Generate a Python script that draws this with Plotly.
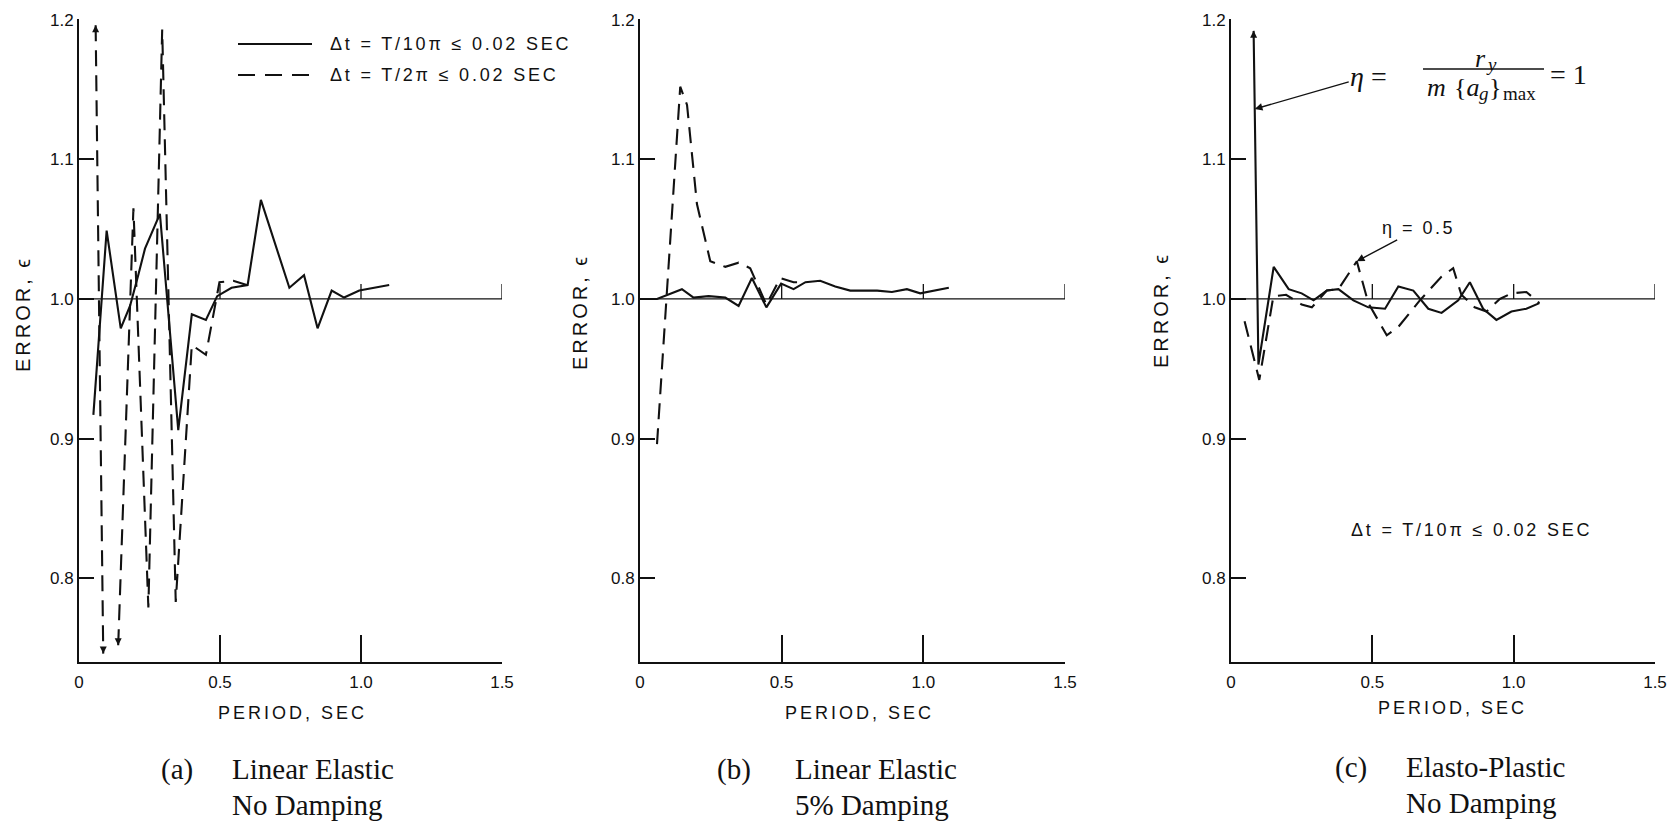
import numpy as np
import plotly.graph_objects as go

W, H = 1672, 822

# ---------------- data (period T in sec, error epsilon) ----------------
# (a) Linear Elastic, No Damping
a_solid_T = [0.051, 0.098, 0.148, 0.181, 0.210, 0.234, 0.287, 0.352, 0.400, 0.450, 0.490,
             0.541, 0.598, 0.645, 0.746, 0.798, 0.846, 0.896, 0.940, 0.994, 1.100]
a_solid_E = [0.917, 1.049, 0.979, 0.995, 1.017, 1.036, 1.061, 0.906, 0.989, 0.985, 1.002,
             1.008, 1.010, 1.071, 1.008, 1.017, 0.979, 1.006, 1.001, 1.006, 1.010]
a_dash_T = [0.059, 0.086, None, 0.139, 0.193, 0.246, 0.295, 0.343, 0.400, 0.450, 0.498, 0.547, 0.595]
a_dash_E = [1.196, 0.746, None, 0.752, 1.065, 0.779, 1.193, 0.783, 0.967, 0.960, 1.012, 1.013, 1.010]
a_arrow_up_T, a_arrow_up_E = [0.059], [1.196]
a_arrow_dn_T, a_arrow_dn_E = [0.086, 0.139], [0.746, 0.752]

# (b) Linear Elastic, 5% Damping
b_solid_T = [0.000, 0.060, 0.148, 0.189, 0.242, 0.301, 0.348, 0.395, 0.446, 0.498, 0.542,
             0.584, 0.636, 0.689, 0.742, 0.837, 0.889, 0.942, 0.989, 1.090]
b_solid_E = [1.000, 1.000, 1.007, 1.001, 1.002, 1.001, 0.995, 1.015, 0.994, 1.011, 1.007,
             1.012, 1.013, 1.009, 1.006, 1.006, 1.005, 1.007, 1.004, 1.008]
b_dash_T = [0.060, 0.142, 0.166, 0.201, 0.248, 0.301, 0.348, 0.389, 0.446, 0.495, 0.542, 0.584]
b_dash_E = [0.896, 1.152, 1.139, 1.068, 1.027, 1.023, 1.026, 1.022, 0.996, 1.015, 1.012, 1.012]

# (c) Elasto-Plastic, No Damping  (solid: eta = 1, dashed: eta = 0.5)
c_solid_T = [0.080, 0.097, 0.151, 0.204, 0.250, 0.292, 0.339, 0.380, 0.433, 0.486, 0.545,
             0.592, 0.645, 0.698, 0.745, 0.804, 0.845, 0.892, 0.939, 0.992, 1.045, 1.091]
c_solid_E = [1.192, 0.953, 1.023, 1.007, 1.004, 0.999, 1.006, 1.007, 0.999, 0.994, 0.993,
             1.009, 1.006, 0.993, 0.990, 0.999, 1.012, 0.993, 0.985, 0.991, 0.993, 0.997]
c_dash_T = [0.048, 0.100, 0.150, 0.195, 0.250, 0.286, 0.339, 0.380, 0.445, 0.486, 0.551,
            0.592, 0.668, 0.745, 0.786, 0.815, 0.862, 0.904, 0.951, 0.992, 1.045, 1.091]
c_dash_E = [0.984, 0.942, 1.002, 1.003, 0.996, 0.994, 1.006, 1.007, 1.027, 0.997, 0.974,
            0.980, 0.999, 1.016, 1.022, 1.003, 0.994, 0.991, 1.000, 1.004, 1.005, 0.997]
c_arrow_up_T, c_arrow_up_E = [0.080], [1.192]

# axes / labels
X_TICKS = [0, 0.5, 1.0, 1.5]
X_TICKTEXT = ["0", "0.5", "1.0", "1.5"]
Y_TICKS = [0.8, 0.9, 1.0, 1.1, 1.2]
Y_TICKTEXT = ["0.8", "0.9", "1.0", "1.1", "1.2"]
REF_TICKS = [0.5, 1.0, 1.5]
X_TITLE = "PERIOD, SEC"
Y_TITLE = "ERROR, \u03f5"
LEG_SOLID = "\u0394t = T/10\u03c0 \u2264 0.02 SEC"
LEG_DASH = "\u0394t = T/2\u03c0 \u2264 0.02 SEC"
ETA_HALF = "\u03b7 = 0.5"
CAPTIONS = [("(a)", "Linear Elastic", "No Damping"),
            ("(b)", "Linear Elastic", "5% Damping"),
            ("(c)", "Elasto-Plastic", "No Damping")]

# ---------------- layout helpers ----------------
INK = "#111111"
SANS = "Liberation Sans, Arial, sans-serif"
SERIF = "Liberation Serif, Times New Roman, serif"
DASH = "16px,9px"


def fx(px):
    return px / W


def fy(py):
    return 1 - py / H


def spaced(t, sp):
    return '<span style="letter-spacing:%spx">%s</span>' % (sp, t)


YDOM = [fy(662), fy(19)]
XDOMS = [[fx(79), fx(502)], [fx(640), fx(1065)], [fx(1231), fx(1655)]]

fig = go.Figure()


def add_line(T, E, k, dash=None):
    fig.add_trace(go.Scatter(
        x=T, y=E, mode="lines", xaxis="x" + k, yaxis="y" + k, showlegend=False,
        line=dict(color=INK, width=2.1, dash=dash), connectgaps=False, hoverinfo="skip"))


def add_arrows(T, E, k, sym):
    fig.add_trace(go.Scatter(
        x=T, y=E, mode="markers", xaxis="x" + k, yaxis="y" + k, showlegend=False,
        marker=dict(symbol=sym, size=7, color=INK), cliponaxis=False, hoverinfo="skip"))


add_line(a_solid_T, a_solid_E, "")
add_line(a_dash_T, a_dash_E, "", DASH)
add_arrows(a_arrow_up_T, a_arrow_up_E, "", "arrow-up")
add_arrows(a_arrow_dn_T, a_arrow_dn_E, "", "arrow-down")
add_line(b_solid_T, b_solid_E, "2")
add_line(b_dash_T, b_dash_E, "2", DASH)
add_line(c_solid_T, c_solid_E, "3")
add_line(c_dash_T, c_dash_E, "3", DASH)
add_arrows(c_arrow_up_T, c_arrow_up_E, "3", "arrow-up")

layout = dict(
    width=W, height=H, margin=dict(l=0, r=0, t=0, b=0, autoexpand=False),
    paper_bgcolor="white", plot_bgcolor="white", showlegend=False,
    font=dict(family=SANS, color=INK, size=18),
)
shapes = []
annotations = []


def note(text, px, py, font, xanchor="center", angle=0):
    annotations.append(dict(xref="paper", yref="paper", x=fx(px), y=fy(py), text=text,
                            showarrow=False, font=font, xanchor=xanchor, yanchor="middle",
                            textangle=angle))


for i, dom in enumerate(XDOMS):
    k = "" if i == 0 else str(i + 1)
    layout["xaxis" + k] = dict(
        domain=dom, range=[0, 1.5], anchor="y" + k, showline=True, linewidth=2, linecolor=INK,
        ticks="inside", ticklen=27, tickwidth=1.6, tickcolor=INK, tickvals=X_TICKS,
        ticktext=X_TICKTEXT, showgrid=False, zeroline=False,
        tickfont=dict(family=SANS, size=17, color=INK), ticklabelstandoff=4)
    layout["yaxis" + k] = dict(
        domain=YDOM, range=[0.74, 1.2005], anchor="x" + k, showline=True, linewidth=2,
        linecolor=INK, ticks="inside", ticklen=15, tickwidth=1.6, tickcolor=INK,
        tickvals=Y_TICKS, ticktext=Y_TICKTEXT, showgrid=False, zeroline=False,
        tickfont=dict(family=SANS, size=17, color=INK))
    # reference line at error = 1.0 with small upward ticks
    shapes.append(dict(type="line", xref="x" + k, yref="y" + k, x0=0, x1=1.5, y0=1.0, y1=1.0,
                       line=dict(color=INK, width=1.3)))
    for t in REF_TICKS:
        shapes.append(dict(type="line", xref="x" + k, yref="y" + k, ysizemode="pixel",
                           yanchor=1.0, x0=t, x1=t, y0=0, y1=15,
                           line=dict(color=INK, width=1.3)))

# axis titles
for cx, cy in [(23, 314), (580, 312), (1161, 310)]:
    note(spaced(Y_TITLE, 3), cx, cy, dict(family=SANS, size=20, color=INK), angle=-90)
for cx, cy in [(292, 713), (860, 713), (1452, 708)]:
    note(spaced(X_TITLE, 3), cx, cy, dict(family=SANS, size=18, color=INK))

# captions
cap_pos = [(177, 230, 769, 805), (734, 793, 769, 805), (1351, 1404, 767, 803)]
capf = dict(family=SERIF, size=29, color=INK)
for (lab, l1, l2), (lx, tx, y1, y2) in zip(CAPTIONS, cap_pos):
    note(lab, lx, y1, capf)
    note(l1, tx, y1, capf, xanchor="left")
    note(l2, tx, y2, capf, xanchor="left")

# legend (panel a)
shapes.append(dict(type="line", xref="paper", yref="paper", x0=fx(238), x1=fx(312),
                   y0=fy(44), y1=fy(44), line=dict(color=INK, width=2.2)))
shapes.append(dict(type="line", xref="paper", yref="paper", x0=fx(238), x1=fx(312),
                   y0=fy(75), y1=fy(75), line=dict(color=INK, width=2.2, dash="17px,10px")))
legf = dict(family=SANS, size=18, color=INK)
note(spaced(LEG_SOLID, 2.8), 328, 44, legf, xanchor="left")
note(spaced(LEG_DASH, 2.8), 328, 75, legf, xanchor="left")

# panel (c) note
note(spaced(LEG_SOLID, 2.8), 1471, 530, legf)

# eta = 1 formula  (eta = r_y / (m {a_g}_max) = 1), built from pieces
big = dict(family=SERIF, size=28, color=INK)
mid = dict(family=SERIF, size=26, color=INK)
small = dict(family=SERIF, size=19, color=INK)
e_pt = 1.136
t_pt = float(np.interp(e_pt, [c_solid_E[1], c_solid_E[0]], [c_solid_T[1], c_solid_T[0]]))
annotations.append(dict(xref="x3", yref="y3", x=t_pt, y=e_pt, ax=114, ay=-33,
                        text="<i>\u03b7</i> =", font=big, showarrow=True, arrowhead=2,
                        arrowsize=1.1, arrowwidth=1.4, arrowcolor=INK, standoff=0,
                        xanchor="center", yanchor="middle"))
note("<i>r</i>", 1473, 59, mid, xanchor="left")
note("<i>y</i>", 1484, 65, small, xanchor="left")
note("<i>m</i>", 1425, 87, mid, xanchor="left")
note("{<i>a</i>", 1452, 87, mid, xanchor="left")
note("<i>g</i>", 1477, 94, small, xanchor="left")
note("}", 1487, 87, mid, xanchor="left")
note("max", 1501, 94, small, xanchor="left")
note("= 1", 1548, 74, big, xanchor="left")
shapes.append(dict(type="line", xref="paper", yref="paper", x0=fx(1423), x1=fx(1544),
                   y0=fy(69), y1=fy(69), line=dict(color=INK, width=1.5)))

# eta = 0.5 label with arrow to the dashed peak
i_pk = int(np.argmax(c_dash_E[5:])) + 5
annotations.append(dict(xref="x3", yref="y3", x=c_dash_T[i_pk], y=c_dash_E[i_pk], ax=62, ay=-33,
                        text=spaced(ETA_HALF, 2.5), font=legf,
                        showarrow=True, arrowhead=2, arrowsize=1.1, arrowwidth=1.4,
                        arrowcolor=INK, standoff=0))

layout["shapes"] = shapes
layout["annotations"] = annotations
fig.update_layout(**layout)
fig.write_html("out.html")
